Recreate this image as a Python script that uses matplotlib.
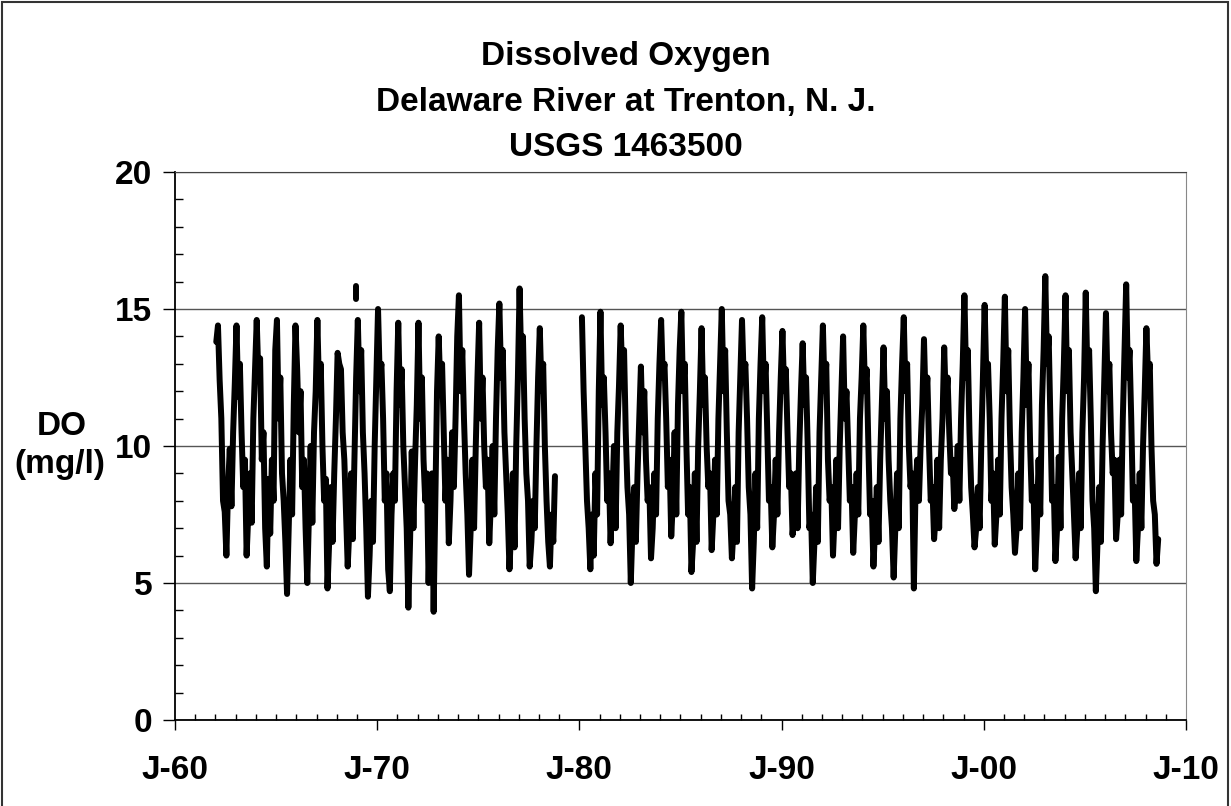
import matplotlib.pyplot as plt
import numpy as np
from matplotlib.ticker import MultipleLocator
from matplotlib.patches import Rectangle

plt.rcParams['font.family'] = ['Liberation Sans', 'DejaVu Sans']
plt.rcParams['font.weight'] = 'bold'

# Lecturas aproximadas del gráfico: OD (mg/l) a mitad de cada mes, ene..dic
sample_months = [0.5, 1.5, 2.5, 3.5, 4.5, 5.5, 6.5, 7.5, 8.5, 9.5, 10.5, 11.5]
nan = np.nan
do_by_year = {
    1962: [13.8, 14.4, 12.4, 11.0, 8.0, 7.6, 6.0, 8.5, 9.9, 7.8, 10.5, 12.3],
    1963: [14.4, 11.8, 13.0, 10.5, 8.5, 9.5, 6.0, 7.5, 9.0, 7.2, 11.0, 12.8],
    1964: [14.6, 12.5, 13.2, 9.5, 10.5, 7.0, 5.6, 8.8, 6.8, 9.5, 8.0, 13.5],
    1965: [14.6, 11.0, 12.5, 9.0, 8.0, 6.5, 4.6, 7.0, 9.5, 7.5, 11.5, 14.4],
    1966: [12.8, 10.5, 12.0, 8.5, 9.5, 7.0, 5.0, 7.5, 10.0, 7.2, 10.5, 12.0],
    1967: [14.6, 12.0, 13.0, 10.0, 8.0, 8.8, 4.8, 6.5, 8.5, 6.5, 9.0, 11.0],
    1968: [13.4, 13.0, 12.8, 10.5, 9.5, 7.5, 5.6, 7.0, 9.0, 6.6, 9.5, 12.5],
    1969: [14.6, 12.0, 13.5, 10.5, 9.0, 7.0, 4.5, 6.0, 8.0, 6.5, 10.0, 12.5],
    1970: [15.0, 12.5, 13.0, 11.0, 8.0, 9.0, 5.5, 4.7, 7.5, 9.0, 8.0, 12.0],
    1971: [14.5, 11.5, 12.8, 10.0, 8.5, 7.0, 4.1, 6.5, 9.8, 7.0, 9.5, 11.5],
    1972: [14.5, 11.0, 12.5, 9.5, 8.0, 9.0, 5.0, 7.5, 9.0, 3.95, 8.0, 12.0],
    1973: [14.0, 12.0, 13.0, 10.5, 8.0, 9.5, 6.45, 8.0, 10.5, 8.5, 11.0, 14.0],
    1974: [15.5, 12.0, 13.5, 11.0, 9.0, 7.5, 5.3, 7.0, 9.5, 7.0, 10.0, 12.5],
    1975: [14.5, 11.0, 12.5, 10.0, 8.5, 9.5, 6.45, 8.0, 10.0, 7.5, 11.0, 13.5],
    1976: [15.2, 12.5, 13.5, 10.5, 9.0, 7.5, 5.5, 7.0, 9.0, 6.3, 10.0, 12.5],
    1977: [15.75, 13.0, 14.0, 11.0, 9.0, 8.0, 5.6, 6.5, 8.0, 7.0, 10.0, 12.5],
    1978: [14.3, 12.0, 13.0, 10.0, 8.0, 6.5, 5.6, 7.5, 6.5, 8.9, nan, nan],
    1979: [nan] * 12,
    1980: [nan, 14.7, 12.0, 10.0, 8.0, 7.0, 5.5, 7.5, 6.0, 9.0, 7.5, 12.0],
    1981: [14.9, 11.5, 12.5, 10.5, 8.0, 9.0, 6.45, 8.0, 10.0, 7.0, 10.5, 12.2],
    1982: [14.4, 12.5, 13.5, 10.5, 8.5, 7.5, 5.0, 7.0, 8.5, 6.5, 9.0, 11.0],
    1983: [12.9, 10.5, 12.0, 9.5, 8.0, 8.5, 5.9, 7.0, 9.0, 7.5, 11.0, 13.0],
    1984: [14.6, 12.5, 13.0, 11.0, 8.5, 9.5, 6.7, 8.0, 10.5, 7.5, 11.5, 13.5],
    1985: [14.9, 12.0, 13.0, 10.0, 7.5, 8.5, 5.4, 6.5, 9.0, 6.5, 10.0, 12.0],
    1986: [14.3, 11.5, 12.5, 10.0, 8.5, 9.0, 6.2, 7.5, 9.5, 7.5, 11.0, 13.0],
    1987: [15.0, 12.0, 13.5, 10.5, 8.0, 7.5, 5.9, 7.0, 8.5, 6.5, 10.5, 12.5],
    1988: [14.6, 12.5, 13.0, 11.0, 8.5, 7.5, 4.8, 6.5, 9.0, 7.0, 11.0, 13.0],
    1989: [14.7, 12.0, 13.0, 10.5, 8.0, 8.5, 6.3, 7.5, 9.5, 7.5, 10.5, 12.5],
    1990: [14.2, 12.0, 12.8, 10.5, 8.5, 9.0, 6.75, 7.5, 9.0, 7.0, 10.0, 12.0],
    1991: [13.75, 11.5, 12.5, 10.0, 7.0, 7.5, 5.0, 6.5, 8.5, 6.5, 10.5, 12.5],
    1992: [14.4, 12.0, 13.0, 9.5, 8.0, 8.5, 6.0, 7.5, 9.5, 7.0, 10.0, 12.0],
    1993: [14.0, 11.0, 12.0, 10.0, 8.0, 8.5, 6.1, 7.5, 9.0, 7.5, 11.0, 12.5],
    1994: [14.4, 12.0, 12.8, 10.0, 7.5, 8.0, 5.6, 7.0, 8.5, 6.5, 9.5, 11.5],
    1995: [13.6, 11.0, 12.0, 9.5, 8.0, 7.0, 5.2, 7.0, 9.0, 7.0, 11.0, 13.0],
    1996: [14.7, 12.0, 13.0, 10.0, 8.5, 9.0, 4.8, 8.5, 9.5, 8.0, 10.0, 11.5],
    1997: [13.9, 11.5, 12.5, 10.0, 8.0, 8.5, 6.6, 7.5, 9.5, 7.0, 9.5, 11.0],
    1998: [13.6, 11.5, 12.5, 10.5, 9.0, 9.5, 7.7, 8.5, 10.0, 8.0, 11.0, 13.0],
    1999: [15.5, 12.5, 13.5, 10.5, 8.5, 7.5, 6.3, 7.0, 8.5, 7.0, 10.0, 12.5],
    2000: [15.15, 12.5, 13.0, 11.0, 8.0, 9.0, 6.4, 7.5, 9.5, 7.5, 11.0, 13.0],
    2001: [15.45, 12.0, 13.5, 10.5, 8.5, 7.5, 6.1, 7.0, 9.0, 7.0, 10.5, 12.5],
    2002: [15.0, 11.5, 13.0, 10.0, 8.0, 8.5, 5.5, 7.0, 9.5, 7.5, 11.5, 13.5],
    2003: [16.2, 13.0, 14.0, 11.0, 8.0, 8.5, 5.8, 7.0, 9.6, 7.0, 11.0, 13.0],
    2004: [15.5, 12.0, 13.5, 10.5, 9.0, 7.5, 5.9, 7.0, 9.0, 7.0, 10.5, 12.5],
    2005: [15.6, 12.5, 13.5, 11.0, 8.0, 7.0, 4.7, 6.5, 8.5, 6.5, 10.0, 12.5],
    2006: [14.85, 12.0, 13.0, 10.5, 9.0, 9.5, 6.6, 7.5, 9.5, 7.5, 11.0, 13.5],
    2007: [15.9, 12.5, 13.5, 11.0, 8.0, 8.5, 5.8, 7.0, 9.0, 7.0, 10.0, 12.0],
    2008: [14.3, 12.5, 13.0, 10.0, 8.0, 7.5, 5.7, 6.6, nan, nan, nan, nan],
}
# trazo aislado a finales de 1968
spike_time = [1968.97, 1968.97]
spike_do = [15.35, 15.85]

tick_years = [1960, 1970, 1980, 1990, 2000, 2010]
tick_labels = ['J-60', 'J-70', 'J-80', 'J-90', 'J-00', 'J-10']
title_lines = ['Dissolved Oxygen', 'Delaware River at Trenton, N. J.', 'USGS 1463500']

t = []
do = []
for yr, vals in do_by_year.items():
    for m, v in zip(sample_months, vals):
        t.append(yr + m / 12.0)
        do.append(v)

fig = plt.figure(figsize=(12.31, 8.06), dpi=100)
ax = fig.add_axes([175 / 1231, 1 - 720 / 806, 1011 / 1231, 548 / 806])

ax.plot(t, do, color='black', lw=4.3, solid_joinstyle='round', solid_capstyle='round', zorder=3)
ax.plot(spike_time, spike_do, color='black', lw=4.3, solid_capstyle='round', zorder=3)

ax.set_xlim(1960, 2010)
ax.set_ylim(0, 20)
ax.set_xticks(tick_years)
ax.set_xticklabels(tick_labels)
ax.xaxis.set_minor_locator(MultipleLocator(1))
ax.yaxis.set_major_locator(MultipleLocator(5))
ax.yaxis.set_minor_locator(MultipleLocator(1))
ax.yaxis.grid(True, which='major', color='#555555', lw=1)
ax.set_axisbelow(True)

ax.tick_params(axis='x', which='major', direction='out', length=7, width=1, labelsize=24, pad=18)
ax.tick_params(axis='x', which='minor', direction='in', length=4.5, width=1)
ax.tick_params(axis='y', which='major', direction='out', length=8.4, width=1, labelsize=24, pad=8)
ax.tick_params(axis='y', which='minor', direction='in', length=5.5, width=1)

ax.spines['left'].set_linewidth(1.3)
ax.spines['bottom'].set_linewidth(1.3)
ax.spines['top'].set_color('#444444')
ax.spines['right'].set_color('#888888')

# titulo
for txt, ypix in zip(title_lines, [57, 102, 148]):
    fig.text(626 / 1231, 1 - ypix / 806, txt, ha='center', va='center', fontsize=24, fontweight='bold')

fig.text(62 / 1231, 1 - 427 / 806, 'DO', ha='center', va='center', fontsize=24, fontweight='bold')
fig.text(60 / 1231, 1 - 465 / 806, '(mg/l)', ha='center', va='center', fontsize=24, fontweight='bold')

fig.patches.append(Rectangle((2 / 1231, -0.01), 1226 / 1231, 1.01 - 2 / 806, transform=fig.transFigure,
                             fill=False, ec='#333333', lw=1.5))

fig.savefig('out.png', dpi=100)
